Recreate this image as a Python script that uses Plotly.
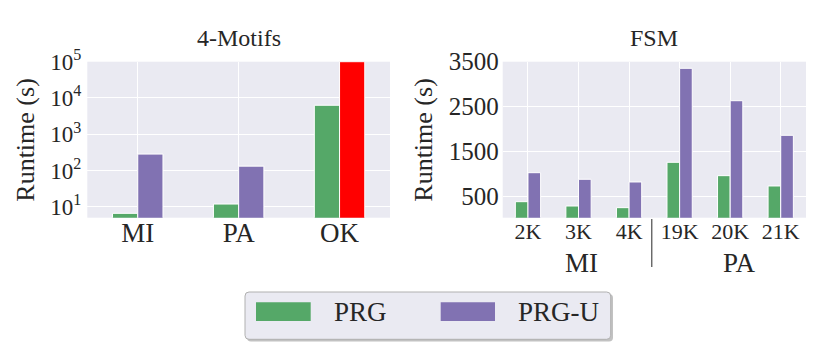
"""Runtime comparison: 4-Motifs (log scale) and FSM (linear) for PRG vs PRG-U."""

import plotly.graph_objects as go

# --- data ------------------------------------------------------------------
motif_cats = ["MI", "PA", "OK"]
motif_prg = [6.6, 11.9, 6300]
motif_prgu = [284, 132, 100000]  # OK run hit the cap (shown in red)

fsm_cats = ["2K", "3K", "4K", "19K", "20K", "21K"]
fsm_prg = [389, 293, 256, 1264, 967, 738]
fsm_prgu = [1033, 887, 827, 3353, 2633, 1864]
fsm_groups = ["MI", "PA"]

motif_ticks = [10, 100, 1000, 10000, 100000]
motif_ticktext = ["10<sup>1</sup>", "10<sup>2</sup>", "10<sup>3</sup>", "10<sup>4</sup>", "10<sup>5</sup>"]
fsm_ticks = [500, 1500, 2500, 3500]

GREEN = "#55a868"
PURPLE = "#8172b2"
RED = "#ff0000"
BG = "#eaeaf2"
INK = "#262626"
FONT = "Liberation Serif"
W, H = 830, 346


def f(size):
    return dict(family=FONT, size=size, color=INK)


fig = go.Figure()

fig.add_trace(go.Bar(x=motif_cats, y=motif_prg, marker=dict(color=GREEN, line=dict(color="white", width=1)),
                     xaxis="x", yaxis="y", showlegend=False))
fig.add_trace(go.Bar(x=motif_cats, y=motif_prgu,
                     marker=dict(color=[PURPLE, PURPLE, RED], line=dict(color="white", width=1)),
                     xaxis="x", yaxis="y", showlegend=False))
fig.add_trace(go.Bar(x=fsm_cats, y=fsm_prg, marker=dict(color=GREEN, line=dict(color="white", width=1)),
                     xaxis="x2", yaxis="y2", showlegend=False))
fig.add_trace(go.Bar(x=fsm_cats, y=fsm_prgu, marker=dict(color=PURPLE, line=dict(color="white", width=1)),
                     xaxis="x2", yaxis="y2", showlegend=False))

ydom = [1 - 217.7 / H, 1 - 61.7 / H]
axis_common = dict(showgrid=True, gridcolor="white", gridwidth=1.3, zeroline=False,
                   showline=False, ticks="", automargin=False)
fig.update_layout(
    template="none",
    width=W, height=H,
    margin=dict(l=0, r=0, t=0, b=0, pad=0),
    paper_bgcolor="white", plot_bgcolor=BG,
    font=f(20),
    barmode="group", bargap=0.5, bargroupgap=0,
    showlegend=False,
    xaxis=dict(domain=[87.3 / W, 390 / W], anchor="y", tickfont=f(27),
               ticklabelstandoff=-4, **axis_common),
    yaxis=dict(domain=ydom, anchor="x", type="log", range=[0.699, 5.0],
               tickvals=motif_ticks, ticktext=motif_ticktext, tickfont=f(23),
               ticklabelstandoff=5, **axis_common),
    xaxis2=dict(domain=[502.7 / W, 806 / W], anchor="y2", tickfont=f(22),
                ticklabelstandoff=-2, **axis_common),
    yaxis2=dict(domain=ydom, anchor="x2", range=[33, 3500], tickvals=fsm_ticks,
                tickfont=f(25), ticklabelstandoff=3, **axis_common),
)

# subplot titles and y-axis titles
fig.add_annotation(text="4-Motifs", xref="paper", yref="paper", x=238.6 / W, y=1 - 38 / H,
                   showarrow=False, font=f(24), xanchor="center", yanchor="middle")
fig.add_annotation(text="FSM", xref="paper", yref="paper", x=654.3 / W, y=1 - 38 / H,
                   showarrow=False, font=f(24), xanchor="center", yanchor="middle")
for xpx in (26, 424):
    fig.add_annotation(text="Runtime (s)", xref="paper", yref="paper", x=xpx / W, y=1 - 139.7 / H,
                       showarrow=False, textangle=-90, font=f(26),
                       xanchor="center", yanchor="middle")

# FSM group labels + separator between MI and PA
for label, xpos in zip(fsm_groups, [1.06, 4.19]):
    fig.add_annotation(text=label, xref="x2", yref="paper", x=xpos, y=1 - 263 / H,
                       showarrow=False, font=f(27), xanchor="center", yanchor="middle")
fig.add_shape(type="line", xref="x2", yref="paper", x0=2.45, x1=2.45,
              y0=1 - 219 / H, y1=1 - 267 / H, line=dict(color=INK, width=1))


# legend box drawn by hand so the swatches match the big matplotlib patches
def rounded(x0, y0, x1, y1, r):
    X = lambda v: v / W
    Y = lambda v: 1 - v / H
    return (f"M {X(x0 + r)},{Y(y0)} L {X(x1 - r)},{Y(y0)} Q {X(x1)},{Y(y0)} {X(x1)},{Y(y0 + r)} "
            f"L {X(x1)},{Y(y1 - r)} Q {X(x1)},{Y(y1)} {X(x1 - r)},{Y(y1)} L {X(x0 + r)},{Y(y1)} "
            f"Q {X(x0)},{Y(y1)} {X(x0)},{Y(y1 - r)} L {X(x0)},{Y(y0 + r)} Q {X(x0)},{Y(y0)} {X(x0 + r)},{Y(y0)} Z")


fig.add_shape(type="path", xref="paper", yref="paper", path=rounded(247, 294, 613, 341.5, 4),
              fillcolor="#9a9a9a", line=dict(width=0), opacity=0.6)
fig.add_shape(type="path", xref="paper", yref="paper", path=rounded(245, 292, 610.7, 339.3, 4),
              fillcolor=BG, line=dict(color="#b0b0b0", width=1))
for (x0, x1), color, label in zip([(256, 310.7), (440.7, 495)], [GREEN, PURPLE], ["PRG", "PRG-U"]):
    fig.add_shape(type="rect", xref="paper", yref="paper", x0=x0 / W, x1=x1 / W,
                  y0=1 - 302.3 / H, y1=1 - 321 / H, fillcolor=color, line=dict(width=0))
    fig.add_annotation(text=label, xref="paper", yref="paper", x=(x1 + 21) / W, y=1 - 311.5 / H,
                       showarrow=False, font=f(27), xanchor="left", yanchor="middle")

fig.write_html("out.html", config={"displayModeBar": False},
               post_script="document.body.style.margin='0';")
